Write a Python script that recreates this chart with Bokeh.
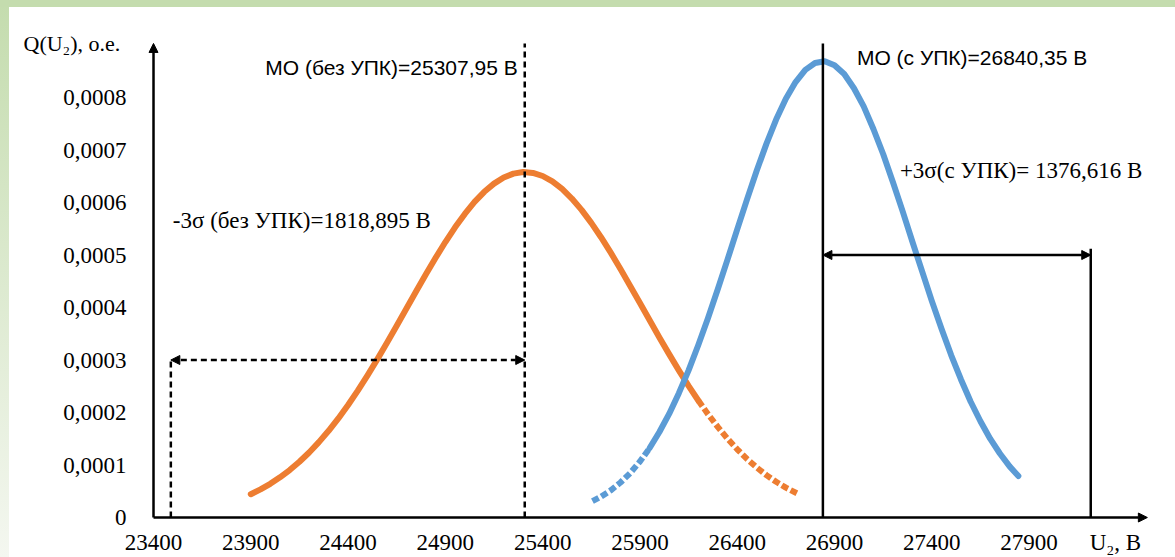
from bokeh.plotting import figure
from bokeh.models import (FixedTicker, Label, Arrow, NormalHead, Range1d, LinearAxis)
from bokeh.embed import file_html
from bokeh.resources import INLINE

# ---- data ----
u_orange = [23900, 23950, 24000, 24050, 24100, 24150, 24200, 24250, 24300, 24350, 24400,
            24450, 24500, 24550, 24600, 24650, 24700, 24750, 24800, 24850, 24900, 24950,
            25000, 25050, 25100, 25150, 25200, 25250, 25300, 25350, 25400, 25450, 25500,
            25550, 25600, 25650, 25700, 25750, 25800, 25850, 25900, 25950, 26000, 26050,
            26100, 26150, 26200, 26250, 26300, 26350, 26400, 26450, 26500, 26550, 26600,
            26650, 26720]
q_orange = [0.0000444, 0.0000536, 0.0000642, 0.0000765, 0.0000904, 0.0001062, 0.0001239,
            0.0001436, 0.0001652, 0.0001888, 0.0002144, 0.0002418, 0.0002708, 0.0003012,
            0.0003327, 0.0003652, 0.0003980, 0.0004309, 0.0004632, 0.0004947, 0.0005247,
            0.0005527, 0.0005783, 0.0006011, 0.0006204, 0.0006360, 0.0006477, 0.0006550,
            0.0006580, 0.0006564, 0.0006505, 0.0006402, 0.0006258, 0.0006076, 0.0005860,
            0.0005612, 0.0005339, 0.0005044, 0.0004734, 0.0004412, 0.0004086, 0.0003756,
            0.0003430, 0.0003112, 0.0002803, 0.0002508, 0.0002229, 0.0001968, 0.0001725,
            0.0001502, 0.0001300, 0.0001116, 0.0000953, 0.0000807, 0.0000680, 0.0000568,
            0.0000437]

u_blue = [25656, 25700, 25750, 25800, 25850, 25900, 25950, 26000, 26050, 26100, 26150,
          26200, 26250, 26300, 26350, 26400, 26450, 26500, 26550, 26600, 26650, 26700,
          26750, 26800, 26850, 26900, 26950, 27000, 27050, 27100, 27150, 27200, 27250,
          27300, 27350, 27400, 27450, 27500, 27550, 27600, 27650, 27700, 27750, 27800,
          27845]
q_blue = [0.0000311, 0.0000397, 0.0000517, 0.0000667, 0.0000847, 0.0001066, 0.0001323,
          0.0001628, 0.0001973, 0.0002368, 0.0002803, 0.0003286, 0.0003800, 0.0004349,
          0.0004912, 0.0005488, 0.0006055, 0.0006604, 0.0007117, 0.0007580, 0.0007978,
          0.0008295, 0.0008527, 0.0008657, 0.0008692, 0.0008616, 0.0008449, 0.0008177,
          0.0007832, 0.0007401, 0.0006924, 0.0006389, 0.0005836, 0.0005258, 0.0004692,
          0.0004127, 0.0003597, 0.0003089, 0.0002630, 0.0002205, 0.0001834, 0.0001501,
          0.0001219, 0.0000974, 0.0000790]

mo_without = 25307.95      # МО (без УПК)
sigma3_without = 1818.895  # 3σ (без УПК)
mo_with = 26840.35         # МО (с УПК)
sigma3_with = 1376.616     # 3σ (с УПК)

x_ticks = [23400, 23900, 24400, 24900, 25400, 25900, 26400, 26900, 27400, 27900]
y_ticks = [0, 0.0001, 0.0002, 0.0003, 0.0004, 0.0005, 0.0006, 0.0007, 0.0008]
y_tick_labels = ["0", "0,0001", "0,0002", "0,0003", "0,0004", "0,0005", "0,0006",
                 "0,0007", "0,0008"]

x_origin = 23400
x_axis_end = 28508
y_axis_end = 0.000903
arrow_level_without = 0.0003
arrow_level_with = 0.0005
right_line_top = 0.000512
sparse_from_orange = 26200   # scatter becomes sparse beyond this voltage
sparse_to_blue = 25950       # scatter sparse before this voltage

SERIF = "Liberation Serif"
SANS = "Liberation Sans"
ORANGE = "#ED7D31"
BLUE = "#5B9BD5"

bg = ("linear-gradient(#c4dcae, #c4dcae) 0 0 / 100% 7px no-repeat, "
      "linear-gradient(to bottom, #c4dcae, #f4f7f0) 0 0 / 9px 100% no-repeat, #ffffff")

p = figure(width=1175, height=557, output_backend="svg", toolbar_location=None,
           x_range=Range1d(22613.6, 28652.6), y_range=Range1d(-0.00007619, 0.0009848),
           x_axis_location=None, y_axis_location=None,
           min_border_left=0, min_border_right=0, min_border_top=0, min_border_bottom=0,
           styles={"background": bg})
p.outline_line_color = None
p.grid.grid_line_color = None
p.background_fill_color = None
p.border_fill_color = None

xaxis = LinearAxis(fixed_location=0, ticker=FixedTicker(ticks=x_ticks))
yaxis = LinearAxis(fixed_location=x_origin, ticker=FixedTicker(ticks=y_ticks))
yaxis.major_label_overrides = {t: l for t, l in zip(y_ticks, y_tick_labels)}
for ax in (xaxis, yaxis):
    ax.axis_line_color = None
    ax.major_tick_line_color = None
    ax.minor_tick_line_color = None
    ax.major_label_text_font = SERIF
    ax.major_label_text_font_size = "23px"
    ax.major_label_text_color = "black"
xaxis.major_label_standoff = 11
yaxis.major_label_standoff = 21
p.add_layout(xaxis, "below")
p.add_layout(yaxis, "left")

# curves: dense part solid, sparse tails broken
def split(u, q, keep):
    idx = [i for i, v in enumerate(u) if keep(v)]
    return [u[i] for i in idx], [q[i] for i in idx]

uo1, qo1 = split(u_orange, q_orange, lambda v: v <= sparse_from_orange)
uo2, qo2 = split(u_orange, q_orange, lambda v: v >= sparse_from_orange)
ub1, qb1 = split(u_blue, q_blue, lambda v: v <= sparse_to_blue)
ub2, qb2 = split(u_blue, q_blue, lambda v: v >= sparse_to_blue)

line_kw = dict(line_width=6, line_join="round")
p.line(uo1, qo1, line_color=ORANGE, line_cap="round", **line_kw)
p.line(uo2, qo2, line_color=ORANGE, line_dash="7 3", **line_kw)
p.line(ub1, qb1, line_color=BLUE, line_dash="7 3", **line_kw)
p.line(ub2, qb2, line_color=BLUE, line_cap="round", **line_kw)

# vertical lines
left_bound = mo_without - sigma3_without
right_bound = mo_with + sigma3_with
p.segment(x0=[mo_without, left_bound], y0=[0, 0], x1=[mo_without, left_bound],
          y1=[y_axis_end, arrow_level_without], line_color="black", line_width=2.5,
          line_dash="6 4")
p.segment(x0=[mo_with, right_bound], y0=[0, 0], x1=[mo_with, right_bound],
          y1=[y_axis_end, right_line_top], line_color="black", line_width=2.5)

# double arrows
def head():
    return NormalHead(size=9, fill_color="black", line_color="black", line_width=1)

p.add_layout(Arrow(x_start=left_bound, y_start=arrow_level_without, x_end=mo_without,
                   y_end=arrow_level_without, start=head(), end=head(),
                   line_color="black", line_width=2.5, line_dash="6 4"))
p.add_layout(Arrow(x_start=mo_with, y_start=arrow_level_with, x_end=right_bound,
                   y_end=arrow_level_with, start=head(), end=head(),
                   line_color="black", line_width=2.5))

# axes lines with arrows
p.add_layout(Arrow(x_start=x_origin, y_start=0, x_end=x_origin, y_end=y_axis_end,
                   end=NormalHead(size=9, fill_color="black", line_color="black"),
                   line_color="black", line_width=2.5))
p.add_layout(Arrow(x_start=x_origin, y_start=0, x_end=x_axis_end, y_end=0,
                   end=NormalHead(size=9, fill_color="black", line_color="black"),
                   line_color="black", line_width=2.5))

def lab(text, x, y, xo, font, size, align="left"):
    p.add_layout(Label(x=x, y=y, x_offset=xo, text=text, text_font=font,
                       text_font_size=size, text_align=align, text_baseline="middle",
                       text_color="black"))

lab("Q(U₂), о.е.", x_origin, y_axis_end, -130, SERIF, "22px")
lab("U₂, В", right_bound, -0.0000476, -1, SERIF, "23px")
lab("МО (без УПК)=25307,95 В", mo_without, 0.000857, -7, SANS, "21px", "right")
lab("МО (с УПК)=26840,35 В", mo_with, 0.000876, 34, SANS, "21px")
lab("+3σ(с УПК)= 1376,616 В", mo_with, 0.000661, 77, SERIF, "23px")
lab("-3σ (без УПК)=1818,895 В", left_bound, 0.0005657, 2, SERIF, "23px")

open("out.html", "w").write(file_html(p, INLINE))
